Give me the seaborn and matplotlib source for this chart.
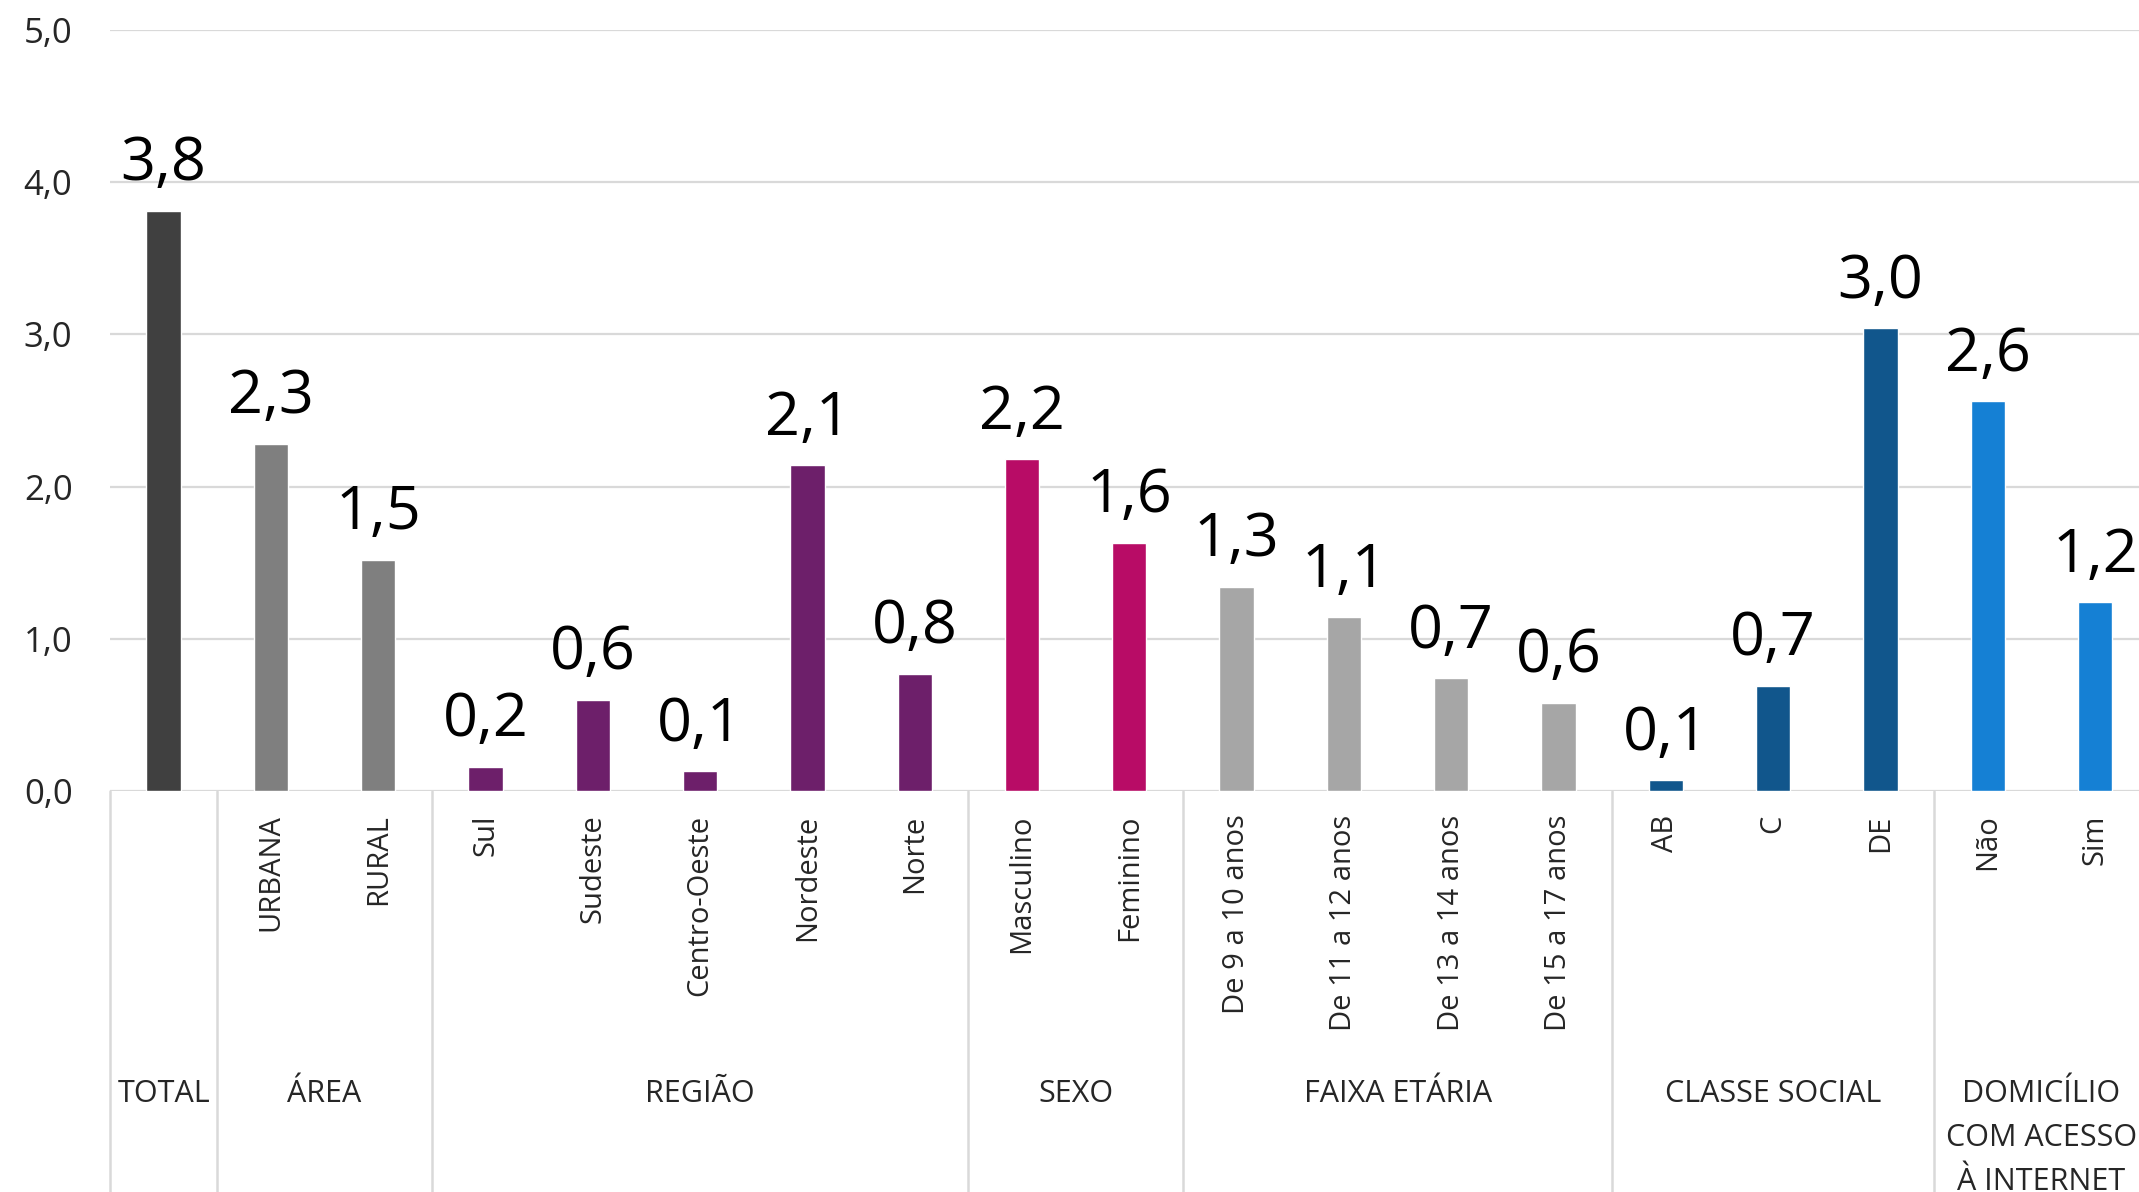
import numpy as np
import matplotlib
matplotlib.use("Agg")
import matplotlib.pyplot as plt
import matplotlib.transforms as mtransforms
import pandas as pd
import seaborn as sns

# Data
categories = ["TOTAL", "URBANA", "RURAL", "Sul", "Sudeste", "Centro-Oeste", "Nordeste", "Norte",
              "Masculino", "Feminino", "De 9 a 10 anos", "De 11 a 12 anos", "De 13 a 14 anos",
              "De 15 a 17 anos", "AB", "C", "DE", "Não", "Sim"]
tick_labels = [""] + categories[1:]
values = [3.81, 2.28, 1.52, 0.16, 0.60, 0.13, 2.14, 0.77,
          2.18, 1.63, 1.34, 1.14, 0.74,
          0.58, 0.07, 0.69, 3.04, 2.56, 1.24]
groups = ["TOTAL", "ÁREA", "REGIÃO", "SEXO", "FAIXA ETÁRIA", "CLASSE SOCIAL",
          "DOMICÍLIO\nCOM ACESSO\nÀ INTERNET"]
group_sizes = [1, 2, 5, 2, 4, 3, 2]
group_colors = ["#404040", "#7f7f7f", "#6d1f6a", "#b80c66", "#a6a6a6", "#11568c", "#1580d4"]
y_ticks = [0, 1, 2, 3, 4, 5]

colors = []
for c, n in zip(group_colors, group_sizes):
    colors += [c] * n

df = pd.DataFrame({"cat": categories, "val": values})

sns.set_style("white")
plt.rcParams["font.family"] = ["Open Sans", "DejaVu Sans"]

fig = plt.figure(figsize=(21.39, 11.92), dpi=100)
ax = fig.add_axes([110 / 2139, (1192 - 791) / 1192, 1 - 110 / 2139, (791 - 30) / 1192])

sns.barplot(data=df, x="cat", y="val", hue="cat", order=categories, hue_order=categories,
            palette=colors, width=0.32, legend=False, ax=ax, saturation=1)

for cont in ax.containers:
    ax.bar_label(cont, labels=[f"{v:.1f}".replace(".", ",") for v in cont.datavalues],
                 fontsize=44, padding=12, color="black")

ax.set_ylim(0, 5)
ax.set_xlim(-0.5, 18.41)
ax.set_yticks(y_ticks)
ax.set_yticklabels([f"{t:.1f}".replace(".", ",") for t in y_ticks], fontsize=25)
ax.set_xticks(range(len(categories)))
ax.set_xticklabels(tick_labels, rotation=90, fontsize=21)
ax.tick_params(axis="x", length=0, pad=17)
ax.tick_params(axis="y", length=0, pad=27)
ax.set_xlabel("")
ax.set_ylabel("")
for s in ax.spines.values():
    s.set_visible(False)
ax.yaxis.grid(True, color="#d9d9d9", linewidth=1.6)
ax.set_axisbelow(True)
ax.axhline(0, color="#d9d9d9", linewidth=2, zorder=0)

# group separators and labels under the axis
trans = mtransforms.blended_transform_factory(ax.transData, ax.transAxes)
start = 0
for g, n in zip(groups, group_sizes):
    ax.plot([start - 0.5, start - 0.5], [0, -0.6], transform=trans, color="#d9d9d9",
            linewidth=1.8, clip_on=False)
    center = start + (n - 1) / 2
    ax.text(center, -0.379, g, transform=trans, ha="center", va="top",
            fontsize=22, linespacing=1.6, clip_on=False)
    start += n

fig.savefig("out.png", dpi=100)
